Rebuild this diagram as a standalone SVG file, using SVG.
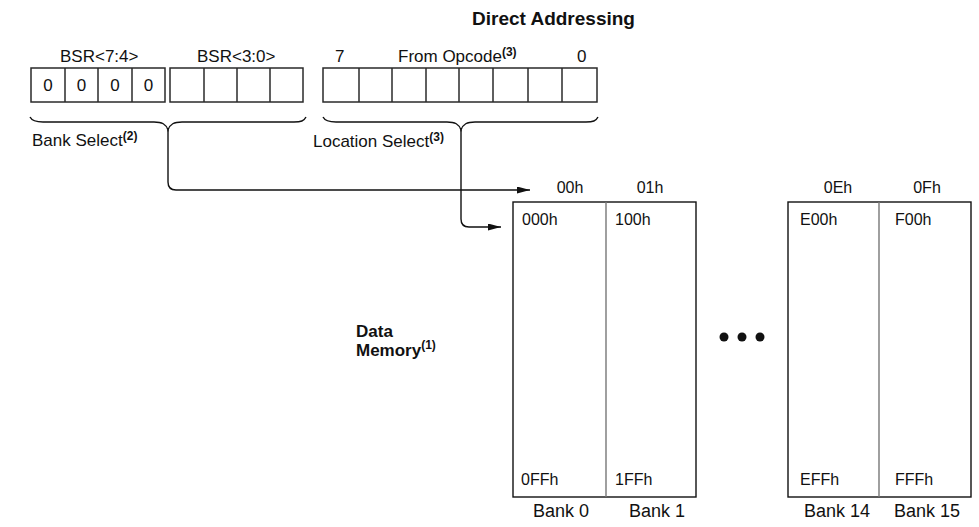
<svg xmlns="http://www.w3.org/2000/svg" width="979" height="527" viewBox="0 0 979 527">
<style>
text{font-family:"Liberation Sans",Arial,sans-serif;fill:#111;}
.lbl{font-size:17px;}
.cell{font-size:16px;}
.bank{font-size:18px;}
.bold{font-weight:bold;}
.sup{font-size:12px;font-weight:bold;}
.reg{fill:#fff;stroke:#2a2a2a;stroke-width:1.5;}
.div{stroke:#2a2a2a;stroke-width:1.5;}
.mem{fill:#fff;stroke:#111;stroke-width:1.4;}
.mdiv{stroke:#777;stroke-width:1.4;}
.conn{fill:none;stroke:#111;stroke-width:1.4;}
</style>
<defs>
<marker id="arr" markerUnits="userSpaceOnUse" markerWidth="14" markerHeight="8" refX="13" refY="3.5" orient="auto">
<path d="M0,0 L13,3.5 L0,7 z" fill="#111"/>
</marker>
</defs>
<rect width="979" height="527" fill="#fff"/>

<g id="title">
<text class="bold" x="472" y="25" style="font-size:19px">Direct Addressing</text>
</g>

<g id="bsr-high">
<text class="lbl" x="60" y="62">BSR&lt;7:4&gt;</text>
<rect class="reg" x="31" y="68" width="134" height="34"/>
<line class="div" x1="65" y1="68" x2="65" y2="102"/>
<line class="div" x1="98" y1="68" x2="98" y2="102"/>
<line class="div" x1="132" y1="68" x2="132" y2="102"/>
<text class="lbl" x="48" y="91" text-anchor="middle">0</text>
<text class="lbl" x="81.5" y="91" text-anchor="middle">0</text>
<text class="lbl" x="115" y="91" text-anchor="middle">0</text>
<text class="lbl" x="148.5" y="91" text-anchor="middle">0</text>
</g>

<g id="bsr-low">
<text class="lbl" x="197" y="62">BSR&lt;3:0&gt;</text>
<rect class="reg" x="170" y="68" width="133" height="34"/>
<line class="div" x1="204" y1="68" x2="204" y2="102"/>
<line class="div" x1="237" y1="68" x2="237" y2="102"/>
<line class="div" x1="270" y1="68" x2="270" y2="102"/>
</g>

<g id="opcode">
<text class="lbl" x="335" y="62">7</text>
<text class="lbl" x="398" y="62">From Opcode<tspan class="sup" dy="-6">(3)</tspan></text>
<text class="lbl" x="577" y="62">0</text>
<rect class="reg" x="323" y="68" width="274" height="34"/>
<line class="div" x1="359" y1="68" x2="359" y2="102"/>
<line class="div" x1="392" y1="68" x2="392" y2="102"/>
<line class="div" x1="426" y1="68" x2="426" y2="102"/>
<line class="div" x1="459" y1="68" x2="459" y2="102"/>
<line class="div" x1="493" y1="68" x2="493" y2="102"/>
<line class="div" x1="528" y1="68" x2="528" y2="102"/>
<line class="div" x1="562" y1="68" x2="562" y2="102"/>
</g>

<g id="bank-select">
<text class="lbl" x="32" y="146">Bank Select<tspan class="sup" dy="-6">(2)</tspan></text>
</g>

<g id="location-select">
<text class="lbl" x="313" y="147">Location Select<tspan class="sup" dy="-6">(3)</tspan></text>
</g>

<g id="connectors">
<path class="conn" d="M30,117 C32,121 36,122 43,122 L154,122 C162,122 166,124 168,130 C170,124 174,122 182,122 L294,122 C301,122 304,121 306,117"/>
<path class="conn" d="M323,117 C325,121 329,122 336,122 L447,122 C455,122 459,124 461,130 C463,124 467,122 475,122 L586,122 C593,122 596,121 598,117"/>
<path class="conn" marker-end="url(#arr)" d="M168,130 L168,182 Q168,190 176,190 L530,190"/>
<path class="conn" marker-end="url(#arr)" d="M461,130 L461,219 Q461,227 469,227 L501,227"/>
</g>

<g id="bank-0-1">
<text class="cell" x="570" y="193" text-anchor="middle">00h</text>
<text class="cell" x="650" y="193" text-anchor="middle">01h</text>
<rect class="mem" x="513" y="202" width="183" height="295"/>
<line class="mdiv" x1="606" y1="202" x2="606" y2="497"/>
<text class="cell" x="522" y="225">000h</text>
<text class="cell" x="615" y="225">100h</text>
<text class="cell" x="521" y="485">0FFh</text>
<text class="cell" x="615" y="485">1FFh</text>
<text class="bank" x="561" y="517" text-anchor="middle">Bank 0</text>
<text class="bank" x="657" y="517" text-anchor="middle">Bank 1</text>
</g>

<g id="ellipsis">
<circle cx="724" cy="337" r="4.5" fill="#111"/>
<circle cx="742" cy="337" r="4.5" fill="#111"/>
<circle cx="760" cy="337" r="4.5" fill="#111"/>
</g>

<g id="bank-14-15">
<text class="cell" x="838" y="193" text-anchor="middle">0Eh</text>
<text class="cell" x="927" y="193" text-anchor="middle">0Fh</text>
<rect class="mem" x="788" y="202" width="183" height="295"/>
<line class="mdiv" x1="879" y1="202" x2="879" y2="497"/>
<text class="cell" x="800" y="225">E00h</text>
<text class="cell" x="895" y="225">F00h</text>
<text class="cell" x="800" y="485">EFFh</text>
<text class="cell" x="895" y="485">FFFh</text>
<text class="bank" x="837" y="517" text-anchor="middle">Bank 14</text>
<text class="bank" x="927" y="517" text-anchor="middle">Bank 15</text>
</g>

<g id="data-memory">
<text class="bold" x="356" y="337" style="font-size:17px">Data</text>
<text class="bold" x="356" y="356" style="font-size:17px">Memory<tspan class="sup" dy="-7">(1)</tspan></text>
</g>
</svg>
